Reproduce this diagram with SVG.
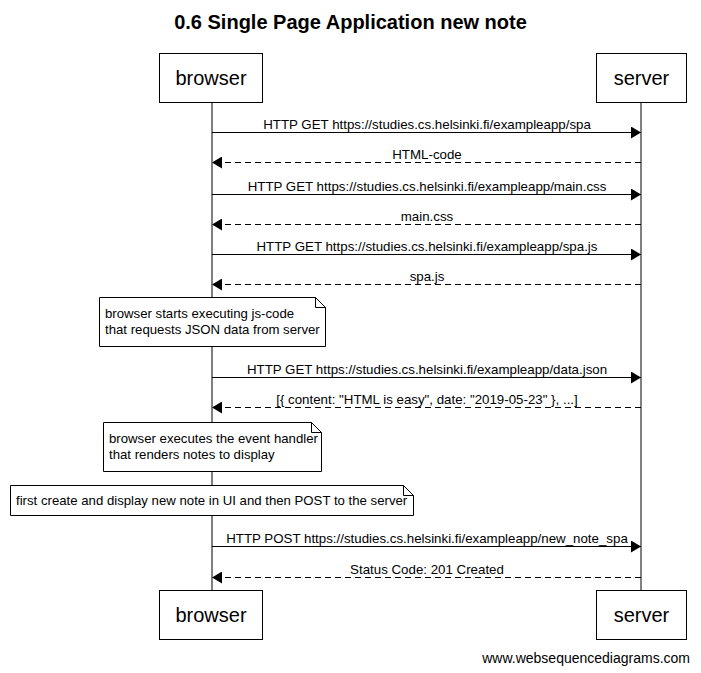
<svg xmlns="http://www.w3.org/2000/svg" width="701" height="673" viewBox="0 0 701 673">
<style>
text{font-family:"Liberation Sans",Arial,sans-serif;fill:#000}
.box{fill:#fff;stroke:#000;stroke-width:1}
.actor{font-size:20px;text-anchor:middle}
.msg{font-size:13.3px;text-anchor:middle}
.nt{font-size:13.2px}
.ln{stroke:#000;stroke-width:1;fill:none}
.dash{stroke-dasharray:6,4}
.note{fill:#fff;stroke:#000;stroke-width:1}
</style>
<defs>
<marker id="ah" viewBox="0 0 10 12" refX="10" refY="6" markerWidth="10" markerHeight="12" markerUnits="userSpaceOnUse" orient="auto">
<path d="M0,0 L10,6 L0,12 Z" fill="#000"/>
</marker>
</defs>
<rect width="701" height="673" fill="#fff"/>
<text x="350.5" y="29" font-size="20" font-weight="bold" text-anchor="middle">0.6 Single Page Application new note</text>
<g id="lifelines">
<line class="ln" x1="212" y1="102" x2="212" y2="590"/>
<line class="ln" x1="641" y1="102" x2="641" y2="590"/>
</g>
<g id="browser">
<rect class="box" x="159.5" y="53.5" width="103" height="49"/>
<text class="actor" x="211" y="85">browser</text>
</g>
<g id="server">
<rect class="box" x="596.5" y="53.5" width="90" height="49"/>
<text class="actor" x="641.5" y="85">server</text>
</g>
<g id="browser-bottom">
<rect class="box" x="159.5" y="590.5" width="103" height="49"/>
<text class="actor" x="211" y="622">browser</text>
</g>
<g id="server-bottom">
<rect class="box" x="596.5" y="590.5" width="90" height="49"/>
<text class="actor" x="641.5" y="622">server</text>
</g>
<g id="connectors">
<line class="ln" x1="212" y1="132.5" x2="641" y2="132.5" marker-end="url(#ah)"/>
<text class="msg" x="427" y="129">HTTP GET https://studies.cs.helsinki.fi/exampleapp/spa</text>
<line class="ln dash" x1="641" y1="162.5" x2="212" y2="162.5" marker-end="url(#ah)"/>
<text class="msg" x="427" y="159">HTML-code</text>
<line class="ln" x1="212" y1="194.5" x2="641" y2="194.5" marker-end="url(#ah)"/>
<text class="msg" x="427" y="191">HTTP GET https://studies.cs.helsinki.fi/exampleapp/main.css</text>
<line class="ln dash" x1="641" y1="224.5" x2="212" y2="224.5" marker-end="url(#ah)"/>
<text class="msg" x="427" y="221">main.css</text>
<line class="ln" x1="212" y1="254.5" x2="641" y2="254.5" marker-end="url(#ah)"/>
<text class="msg" x="427" y="251">HTTP GET https://studies.cs.helsinki.fi/exampleapp/spa.js</text>
<line class="ln dash" x1="641" y1="284.5" x2="212" y2="284.5" marker-end="url(#ah)"/>
<text class="msg" x="427" y="281">spa.js</text>
<line class="ln" x1="212" y1="377.5" x2="641" y2="377.5" marker-end="url(#ah)"/>
<text class="msg" x="427" y="374">HTTP GET https://studies.cs.helsinki.fi/exampleapp/data.json</text>
<line class="ln dash" x1="641" y1="407.5" x2="212" y2="407.5" marker-end="url(#ah)"/>
<text class="msg" x="427" y="404">[{ content: "HTML is easy", date: "2019-05-23" }, ...]</text>
<line class="ln" x1="212" y1="546.5" x2="641" y2="546.5" marker-end="url(#ah)"/>
<text class="msg" x="427" y="543">HTTP POST https://studies.cs.helsinki.fi/exampleapp/new_note_spa</text>
<line class="ln dash" x1="641" y1="577.5" x2="212" y2="577.5" marker-end="url(#ah)"/>
<text class="msg" x="427" y="574">Status Code: 201 Created</text>
</g>
<g id="note1">
<path class="note" d="M99.5,297.5 H315.5 L325.5,307.5 V346.5 H99.5 Z"/>
<path class="ln" d="M315.5,297.5 V307.5 H325.5"/>
<text class="nt" x="105" y="318">browser starts executing js-code</text>
<text class="nt" x="105" y="334">that requests JSON data from server</text>
</g>
<g id="note2">
<path class="note" d="M103.5,422.5 H311.5 L321.5,432.5 V471.5 H103.5 Z"/>
<path class="ln" d="M311.5,422.5 V432.5 H321.5"/>
<text class="nt" x="109" y="443">browser executes the event handler</text>
<text class="nt" x="109" y="459">that renders notes to display</text>
</g>
<g id="note3">
<path class="note" d="M10.5,485.5 H403.5 L413.5,495.5 V515.5 H10.5 Z"/>
<path class="ln" d="M403.5,485.5 V495.5 H413.5"/>
<text class="nt" x="16" y="505">first create and display new note in UI and then POST to the server</text>
</g>
<text x="690" y="663" font-size="14" text-anchor="end">www.websequencediagrams.com</text>
</svg>
